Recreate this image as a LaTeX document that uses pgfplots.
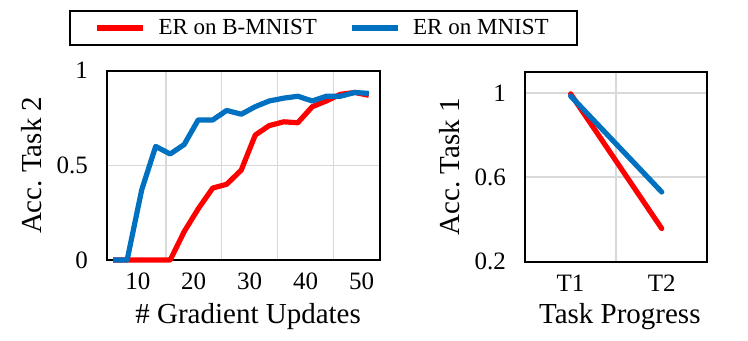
\documentclass[border=0pt]{standalone}
\usepackage{fontspec}
\setmainfont{Liberation Serif}
\usepackage{pgfplots}
\pgfplotsset{compat=1.18}

\definecolor{erred}{RGB}{255,0,0}
\definecolor{erblue}{RGB}{0,112,192}
\definecolor{gridgray}{RGB}{217,217,217}

\pgfplotsset{
  panel/.style={
    scale only axis,
    axis line style={black, line width=0.9pt},
    tick style={draw=none},
    major tick length=0pt, minor tick length=0pt,
    grid style={gridgray, line width=0.8pt},
    minor grid style={gridgray, line width=0.8pt},
    /pgf/number format/assume math mode=true,
    ticklabel style={font=\fontsize{12.5}{14}\selectfont},
    yticklabel style={xshift=-6pt},
    xticklabel style={yshift=-3pt},
    every axis y label/.style={rotate=90, anchor=center, font=\fontsize{14.5}{17}\selectfont},
    every axis x label/.style={anchor=center, font=\fontsize{14.5}{17}\selectfont},
    clip=false,
  },
}

\begin{document}
\begin{tikzpicture}
\useasboundingbox (0,0) rectangle (374pt,170.5pt);

% left: accuracy on task 2 vs gradient updates
\begin{axis}[panel,
  at={(53.5pt,40.5pt)}, anchor=south west,
  width=136.5pt, height=94.65pt,
  xmin=4.5, xmax=53.3, ymin=0, ymax=1,
  xtick={10,20,30,40,50},
  minor xtick={15,25,35,45},
  ytick={0,0.5,1},
  xminorgrids=true, ymajorgrids=true,
  ylabel={Acc.\ Task 2},
  xlabel={\# Gradient Updates},
  ylabel style={at={(axis description cs:-0.276,0.5)}},
  xlabel style={at={(axis description cs:0.517,-0.30)}},
  legend columns=2,
  legend image code/.code={\draw[#1] (0pt,0pt) -- (23pt,0pt);},
  legend style={at={(0.793,1.2256)}, anchor=center, draw=black,
    line width=0.9pt, font=\fontsize{11.5}{13}\selectfont,
    inner xsep=12pt, inner ysep=2pt,
    /tikz/every odd column/.append style={column sep=4.5pt},
    /tikz/every even column/.append style={column sep=14pt}},
]
\addplot[erred, line width=2.6pt, line join=round] coordinates {
  (5.6,0) (8.1,0) (10.7,0) (13.2,0) (15.8,0) (18.3,0.15) (20.8,0.27)
  (23.4,0.38) (25.9,0.40) (28.5,0.475) (31.0,0.66) (33.5,0.71) (36.1,0.73)
  (38.6,0.725) (41.2,0.81) (43.7,0.84) (46.2,0.875) (48.8,0.885) (51.3,0.87)
};
\addlegendentry{ER on B-MNIST}
\addplot[erblue, line width=2.6pt, line join=round] coordinates {
  (5.6,0) (8.1,0) (10.7,0.37) (13.2,0.60) (15.8,0.56) (18.3,0.61) (20.8,0.74)
  (23.4,0.74) (25.9,0.79) (28.5,0.77) (31.0,0.81) (33.5,0.84) (36.1,0.855)
  (38.6,0.865) (41.2,0.84) (43.7,0.865) (46.2,0.865) (48.8,0.885) (51.3,0.88)
};
\addlegendentry{ER on MNIST}
\end{axis}

% right: accuracy on task 1 over tasks
\begin{axis}[panel,
  at={(262.5pt,39.65pt)}, anchor=south west,
  width=91.15pt, height=95pt,
  xmin=-0.5, xmax=1.5, ymin=0.2, ymax=1.1,
  xtick={0,1}, xticklabels={T1,T2},
  minor xtick={0.5},
  ytick={0.2,0.6,1},
  xminorgrids=true, ymajorgrids=true,
  ylabel={Acc.\ Task 1},
  xlabel={Task Progress},
  ylabel style={at={(axis description cs:-0.411,0.5)}},
  xlabel style={at={(axis description cs:0.52,-0.289)}},
]
\addplot[erred, line width=2.6pt, line cap=round] coordinates {(0,0.995) (1,0.357)};
\addplot[erblue, line width=2.6pt, line cap=round] coordinates {(0,0.985) (1,0.53)};
\end{axis}
\end{tikzpicture}
\end{document}
